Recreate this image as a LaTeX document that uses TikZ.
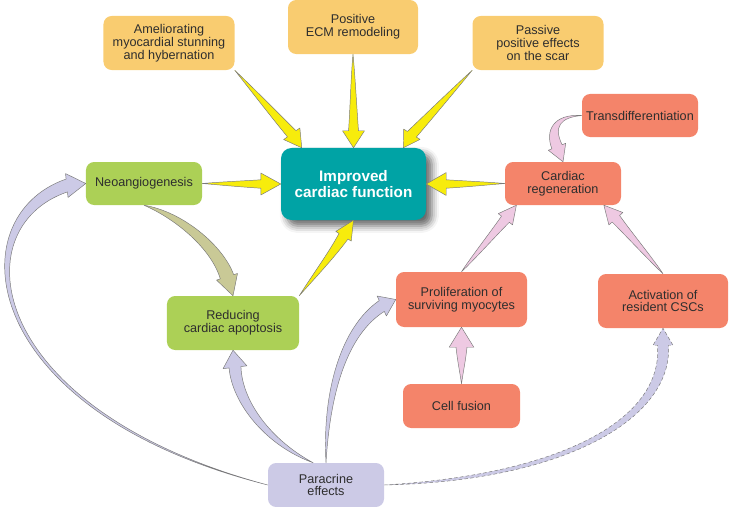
\documentclass[tikz,border=0pt]{standalone}
\usepackage{fontspec}
\setmainfont{Liberation Sans}
\usetikzlibrary{calc,shadows.blur}

\definecolor{amfill}{HTML}{F9CC70}
\definecolor{grfill}{HTML}{ACD056}
\definecolor{safill}{HTML}{F4846A}
\definecolor{lifill}{HTML}{CCCAE6}
\definecolor{tefill}{HTML}{00A3A5}
\definecolor{yefill}{HTML}{F7EC0C}
\definecolor{pifill}{HTML}{EEC9E2}
\definecolor{olfill}{HTML}{C9C996}
\definecolor{txgray}{HTML}{2E2E2E}
\definecolor{edgegray}{HTML}{7A7A7A}

\tikzset{
  box/.style={rounded corners=7pt, inner sep=0pt, align=center, text=txgray,
    font=\fontsize{10.8}{11}\selectfont},
  ambox/.style={box, fill=amfill},
  grbox/.style={box, fill=grfill},
  sabox/.style={box, fill=safill},
  libox/.style={box, fill=lifill},
  mainbox/.style={box, fill=tefill, text=white, rounded corners=9pt,
    font=\fontsize{13}{13.4}\selectfont\bfseries,
    blur shadow={shadow xshift=5pt, shadow yshift=-5pt, shadow blur radius=6pt, shadow opacity=60}},
  yearr/.style={fill=yefill, draw=edgegray, line width=0.4pt, line join=round},
  piarr/.style={fill=pifill, draw=edgegray, line width=0.4pt, line join=round},
  liarr/.style={fill=lifill, draw=edgegray, line width=0.4pt, line join=round},
  olarr/.style={fill=olfill, draw=edgegray, line width=0.4pt, line join=round},
}

% style, start, first handle, second handle, tip, neck (from tip), body width, head width, tail spread
\newcommand{\fatarrow}[9]{%
  \coordinate (nk) at ($(#5)+(#6)$);
  \coordinate (ca) at ($(#2)+(#3)$);
  \coordinate (cb) at ($(nk)+(#4)$);
  \filldraw[#1] (#2) .. controls ($(ca)!#7*#9!90:(cb)$) and ($(cb)!#7*(0.25+#9/2)!90:(nk)$) .. ($(nk)!#7/2!90:(#5)$)
    -- ($(nk)!#8/2!90:(#5)$) -- (#5) -- ($(nk)!#8/2!-90:(#5)$) -- ($(nk)!#7/2!-90:(#5)$)
    .. controls ($(cb)!#7*(0.25+#9/2)!-90:(nk)$) and ($(ca)!#7*#9!-90:(cb)$) .. (#2) -- cycle;}

\begin{document}
\begin{tikzpicture}[x=0.03cm, y=-0.03cm]
  \useasboundingbox (0,0) rectangle (729,507);

  % boxes
  \node[ambox, minimum width=3.93cm, minimum height=1.62cm] (amel) at (169,43) {Ameliorating\\myocardial stunning\\and hybernation};
  \node[ambox, minimum width=3.9cm, minimum height=1.62cm] (ecm) at (353,27) {Positive\\ECM remodeling};
  \node[ambox, minimum width=3.93cm, minimum height=1.62cm] (passive) at (538,43) {Passive\\positive effects\\on the scar};
  \node[sabox, minimum width=3.48cm, minimum height=1.29cm] (trans) at (640,115.5) {Transdifferentiation};
  \node[mainbox, minimum width=4.35cm, minimum height=2.16cm] (improved) at (353.5,184) {Improved\\cardiac function};
  \node[grbox, minimum width=3.48cm, minimum height=1.29cm] (neo) at (144,183.5) {Neoangiogenesis};
  \node[sabox, minimum width=3.48cm, minimum height=1.29cm] (cardreg) at (563,183.5) {Cardiac\\regeneration};
  \node[grbox, minimum width=3.96cm, minimum height=1.62cm] (reducing) at (233,323) {Reducing\\cardiac apoptosis};
  \node[sabox, minimum width=3.93cm, minimum height=1.65cm] (prolif) at (461.5,299.5) {Proliferation of\\surviving myocytes};
  \node[sabox, minimum width=3.9cm, minimum height=1.62cm] (activ) at (663,301) {Activation of\\resident CSCs};
  \node[sabox, minimum width=3.51cm, minimum height=1.32cm] (fusion) at (461.5,406) {Cell fusion};
  \node[libox, minimum width=3.48cm, minimum height=1.32cm] (paracrine) at (326,485) {Paracrine\\effects};

  % yellow arrows
  \fatarrow{yearr}{amel.south east}{20,22}{-20,-22}{improved.145}{-10,-14}{9pt}{17pt}{0.2}
  \fatarrow{yearr}{ecm.south}{0,20}{0,-20}{improved.north}{0,-17}{8.5pt}{18.8pt}{0.2}
  \fatarrow{yearr}{passive.south west}{-20,21}{20,-21}{improved.36}{8.5,-13.5}{9pt}{16.5pt}{0.2}
  \fatarrow{yearr}{neo.east}{20,0}{-20,0}{improved.west}{-20,0}{7.2pt}{18.8pt}{0.2}
  \fatarrow{yearr}{cardreg.west}{-20,0}{20,0}{improved.east}{20,0}{7.2pt}{19.6pt}{0.2}
  \fatarrow{yearr}{reducing.north east}{15,-20}{-12,19}{improved.south}{-10,16}{9pt}{15.5pt}{0.2}

  % olive arrow
  \fatarrow{olarr}{neo.south}{35,10}{-10,-30}{reducing.north}{-6,-19}{12pt}{18.8pt}{0.35}

  % pink arrows
  \fatarrow{piarr}{trans.west}{-25,0}{-8,-18}{cardreg.north}{-6,-15}{9.4pt}{16pt}{0.35}
  \fatarrow{piarr}{prolif.north}{10,-12}{-10,12}{cardreg.205}{-11,14}{8.5pt}{15.5pt}{0.2}
  \fatarrow{piarr}{activ.north}{-10,-12}{10,12}{cardreg.-28}{12,13.5}{8.5pt}{16pt}{0.2}
  \fatarrow{piarr}{fusion.north}{0,-15}{0,15}{prolif.south}{0,20}{9.4pt}{21pt}{0.2}

  % lilac arrows
  \fatarrow{liarr}{paracrine.west}{-288,-75}{-107,36.5}{neo.west}{-19,2}{11pt}{20.5pt}{0.45}
  \fatarrow{liarr}{paracrine.120}{-45,-20}{2,35}{reducing.south}{2,17}{10.2pt}{20.5pt}{0.35}
  \fatarrow{liarr}{paracrine.north}{0,-70}{-38,25}{prolif.west}{-14,6.5}{10.2pt}{18.8pt}{0.35}
  \fatarrow{liarr, dash pattern=on 3pt off 2pt}{paracrine.east}{176,-7}{5,75}{activ.south}{0,17}{9.4pt}{17pt}{0.35}
\end{tikzpicture}
\end{document}
